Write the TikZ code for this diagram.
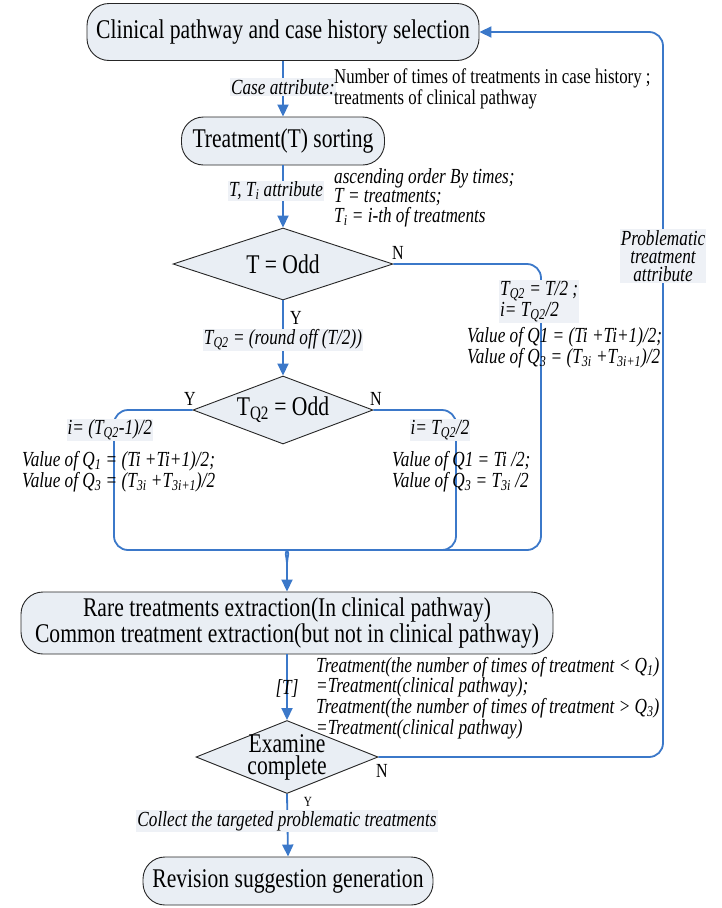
\documentclass[tikz,border=0pt]{standalone}
\usepackage{fontspec}
\setmainfont[FakeStretch=0.8]{Liberation Serif}
\usetikzlibrary{arrows.meta,shapes.geometric}
\definecolor{flowblue}{HTML}{3B78C9}
\definecolor{boxfill}{HTML}{E9EEF4}
\definecolor{tagfill}{HTML}{EEF1F6}
\tikzset{
  procbox/.style={draw=black!85,line width=0.9pt,fill=boxfill,rounded corners=22pt,
    inner sep=0pt,font=\fontsize{27}{24}\selectfont,align=center},
  testbox/.style={draw=black!85,line width=0.9pt,fill=boxfill,diamond,inner sep=0pt},
  testtext/.style={inner sep=0pt,font=\fontsize{27}{22}\selectfont,align=center},
  flow/.style={draw=flowblue,line width=1.8pt,rounded corners=14pt},
  flowarrow/.style={flow,-{Triangle[length=12pt,width=11pt]}},
  tag/.style={fill=tagfill,inner sep=1pt,font=\fontsize{21.5}{18}\itshape\selectfont,align=center},
  note/.style={inner sep=0pt,font=\fontsize{21.5}{18.3}\itshape\selectfont,align=left,anchor=north west},
  noteup/.style={inner sep=0pt,font=\fontsize{21}{18}\selectfont,align=left,anchor=north west},
  yn/.style={inner sep=0pt,font=\fontsize{20}{20}\selectfont}
}
\begin{document}
\begin{tikzpicture}[x=1pt,y=-1pt]
\useasboundingbox (0,0) rectangle (721,908);

% process steps
\node[procbox,minimum width=392pt,minimum height=57pt] (sel) at (283,32) {Clinical pathway and case history selection};
\node[procbox,minimum width=203pt,minimum height=48pt] (sort) at (283,141) {Treatment(T) sorting};
\node[procbox,minimum width=532pt,minimum height=62pt] (extract) at (287,623)
  {Rare treatments extraction(In clinical pathway)\\Common treatment extraction(but not in clinical pathway)};
\node[procbox,minimum width=290pt,minimum height=48pt] (rev) at (288,881) {Revision suggestion generation};

% decisions: fixed-size diamonds with their text set on top
\node[testbox,minimum width=220pt,minimum height=72pt] (odd) at (283,264) {};
\node[testtext] (oddtxt) at (odd.center) {T = Odd};
\node[testbox,minimum width=180pt,minimum height=68pt] (qodd) at (283,410) {};
\node[testtext] (qoddtxt) at (qodd.center) {T\textsubscript{Q2} = Odd};
\node[testbox,minimum width=182pt,minimum height=73pt] (done) at (287,757) {};
\node[testtext] (donetxt) at (done.center) {Examine\\complete};

\coordinate (merge) at (287,563);
\coordinate (loopbot) at (663,757);
\coordinate (looptop) at (663,32);

% connectors
\draw[flowarrow] (sel.south) -- (sort.north);
\draw[flowarrow] (sort.south) -- (odd.north);
\draw[flowarrow] (odd.south) -- (qodd.north);
\draw[flow] (odd.east) -| (541,550) -- (298,550) to[out=180,in=90] (merge);
\draw[flow] (qodd.east) -| (456,550) -- (298,550);
\draw[flow] (qodd.west) -| (114,550) -- (276,550) to[out=0,in=90] (merge);
\draw[flowarrow] (merge) -- (extract.north);
\draw[flowarrow] (extract.south) -- (done.north);
\draw[flowarrow] (done.south) -- (rev.north);
\draw[flowarrow] (done.east) -- (loopbot) -- (looptop) -- (sel.east);

% labels on the connectors
\node[tag] (lcase) at (283,87) {Case attribute:};
\node[noteup] (ncase) at (334,69) {Number of times of treatments in case history ;\\treatments of clinical pathway};
\node[tag] (lattr) at (276,191) {T, T\textsubscript{i} attribute};
\node[note] (nattr) at (334,168) {ascending order By times;\\T = treatments;\\T\textsubscript{i} = i-th of treatments};
\node[yn] (n1) at (398,253) {N};
\node[yn] (y1) at (296,318) {Y};
\node[tag] (lround) at (283,340) {T\textsubscript{Q2} = (round off (T/2))};
\node[tag,align=left,anchor=north west,font=\fontsize{21.5}{17}\itshape\selectfont] (leven) at (499,280) {T\textsubscript{Q2} = T/2 ;\\i= T\textsubscript{Q2}/2};
\node[note] (neven) at (467,327) {Value of Q1 = (Ti +Ti+1)/2;\\Value of Q\textsubscript{3} = (T\textsubscript{3i} +T\textsubscript{3i+1})/2};
\node[yn] (y2) at (190,399) {Y};
\node[yn] (n2) at (376,399) {N};
\node[tag] (lodd) at (110,430) {i= (T\textsubscript{Q2}-1)/2};
\node[note] (nodd) at (22,451) {Value of Q\textsubscript{1} = (Ti +Ti+1)/2;\\Value of Q\textsubscript{3} = (T\textsubscript{3i} +T\textsubscript{3i+1})/2};
\node[tag] (lqeven) at (440,430) {i= T\textsubscript{Q2}/2};
\node[note] (nqeven) at (392,451) {Value of Q1 = Ti /2;\\Value of Q\textsubscript{3} = T\textsubscript{3i} /2};
\node[tag,fill=none] (lt) at (287,688) {[T]};
\node[note] (nrule) at (316,657) {Treatment(the number of times of treatment < Q\textsubscript{1})\\=Treatment(clinical pathway);\\Treatment(the number of times of treatment > Q\textsubscript{3})\\=Treatment(clinical pathway)};
\node[yn] (n3) at (382,771) {N};
\node[yn,font=\fontsize{14}{14}\selectfont] (y3) at (308,802) {Y};
\node[tag] (lcollect) at (287,821) {Collect the targeted problematic treatments};
\node[tag] (lprob) at (663,256) {Problematic\\treatment\\attribute};
\end{tikzpicture}
\end{document}
